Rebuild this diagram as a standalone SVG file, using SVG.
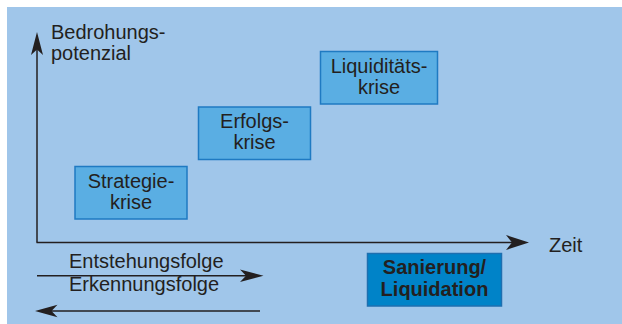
<svg xmlns="http://www.w3.org/2000/svg" width="622" height="324" viewBox="0 0 622 324">
<style>
text{font-family:"Liberation Sans",Arial,sans-serif;font-size:20px;fill:#231F20}
.c{text-anchor:middle}
.b{font-weight:bold}
.box{fill:#5AAEE3;stroke:#1F7AC2;stroke-width:1.5}
.dark{fill:#0083C8;stroke:#1E6FB0;stroke-width:1.5}
.ln{stroke:#231F20;stroke-width:1.5;fill:none}
.ah{fill:#231F20}
</style>
<rect x="7" y="7" width="615" height="317" fill="#A0C6EA"/>
<g id="connectors">
<line class="ln" x1="37" y1="242.5" x2="37" y2="45"/>
<path class="ah" d="M37,32 L43,55 L37,49.5 L31,55 Z"/>
<line class="ln" x1="36.5" y1="242.5" x2="515" y2="242.5"/>
<path class="ah" d="M529,242.5 L506,250 L512,242.5 L506,235 Z"/>
<line class="ln" x1="37" y1="275.7" x2="250" y2="275.7"/>
<path class="ah" d="M263.5,275.7 L240,282 L246,275.7 L240,269.4 Z"/>
<line class="ln" x1="45" y1="311" x2="260" y2="311"/>
<path class="ah" d="M35,311 L57.5,304.8 L51.5,311 L57.5,317.2 Z"/>
</g>
<g id="axis-y-label">
<text x="51" y="38.5">Bedrohungs-</text>
<text x="51" y="59.5">potenzial</text>
</g>
<g id="axis-x-label">
<text x="549" y="252">Zeit</text>
</g>
<g id="strategiekrise">
<rect class="box" x="75" y="166.5" width="112" height="52.5"/>
<text class="c" x="131" y="187.5">Strategie-</text>
<text class="c" x="131" y="208.5">krise</text>
</g>
<g id="erfolgskrise">
<rect class="box" x="198.5" y="107" width="112" height="52.5"/>
<text class="c" x="254.5" y="128">Erfolgs-</text>
<text class="c" x="254.5" y="149">krise</text>
</g>
<g id="liquiditaetskrise">
<rect class="box" x="320.5" y="51.5" width="117" height="52.5"/>
<text class="c" x="379" y="72.5">Liquiditäts-</text>
<text class="c" x="379" y="93.5">krise</text>
</g>
<g id="sanierung">
<rect class="dark" x="367.5" y="253.5" width="134" height="52.5"/>
<text class="c b" x="434.5" y="273.5">Sanierung/</text>
<text class="c b" x="434.5" y="295.5">Liquidation</text>
</g>
<g id="folge-labels">
<text x="69" y="268">Entstehungsfolge</text>
<text x="69" y="291">Erkennungsfolge</text>
</g>
</svg>
